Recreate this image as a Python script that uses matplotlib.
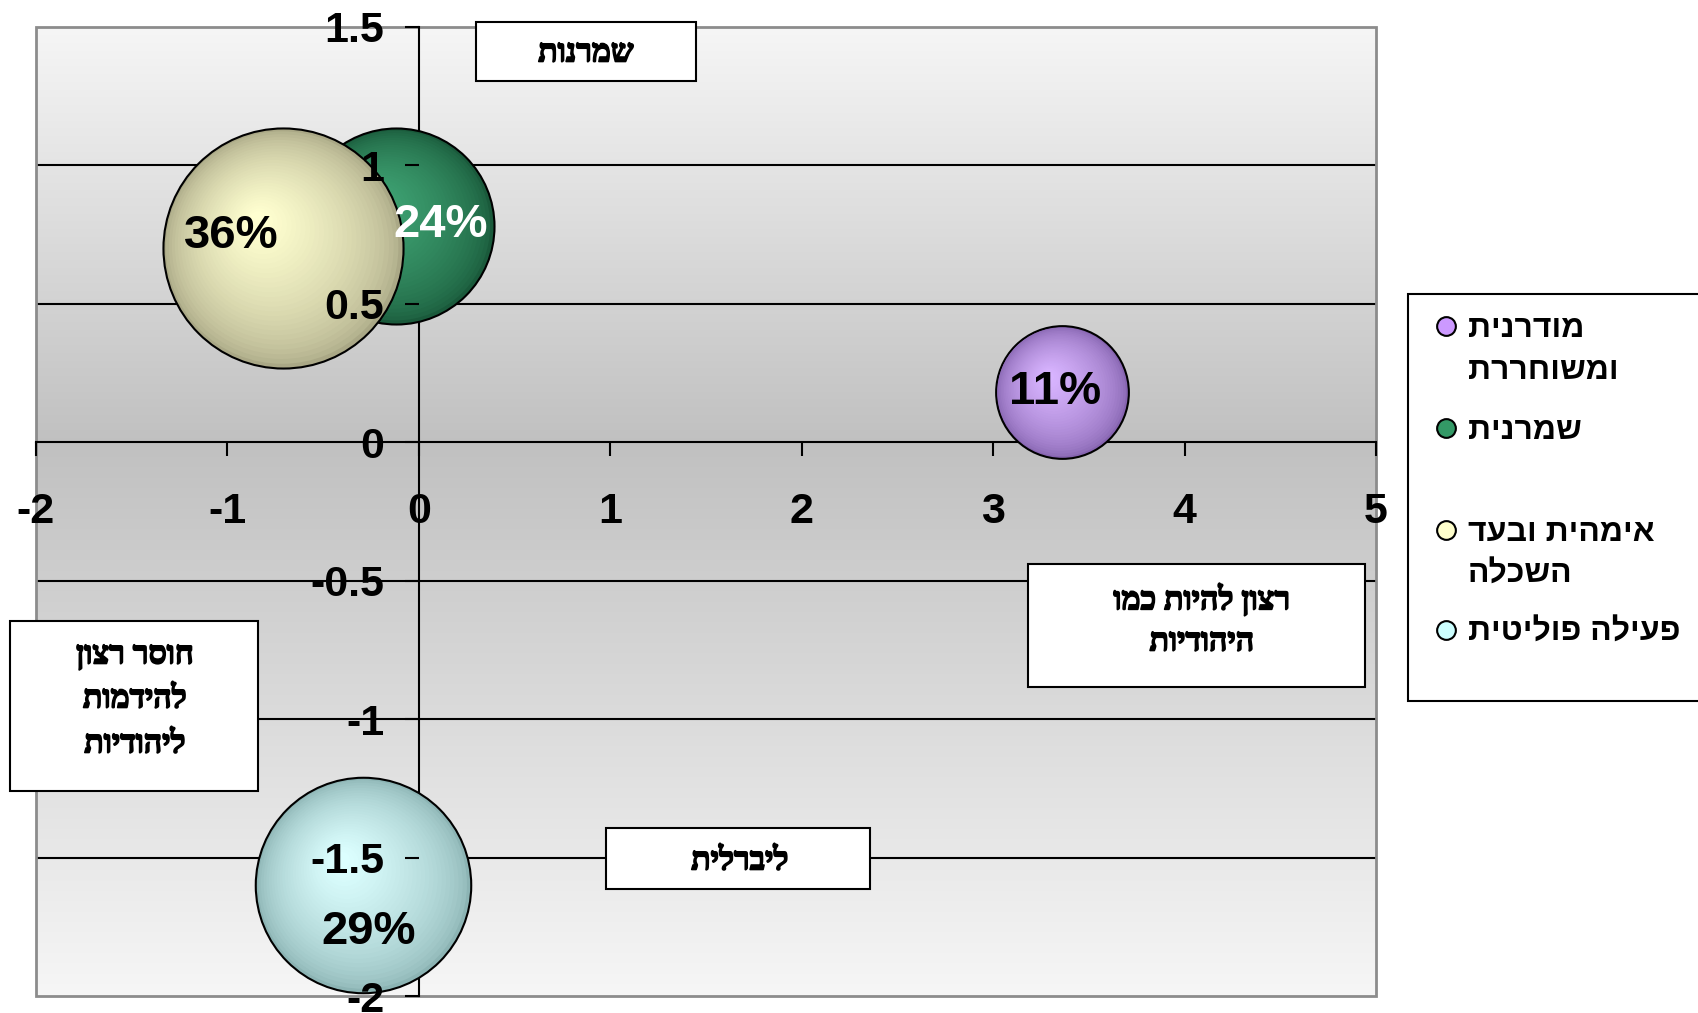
import matplotlib
matplotlib.use("Agg")
import matplotlib.pyplot as plt
import matplotlib.transforms as mtransforms
import matplotlib.patheffects as pe
from matplotlib.patches import Rectangle
from matplotlib.lines import Line2D
import numpy as np

plt.rcParams['font.family'] = ['Liberation Sans', 'DejaVu Sans']
plt.rcParams['font.weight'] = 'bold'
plt.rcParams['axes.unicode_minus'] = False

# bubble series, in legend order
legend_lines = [["מודרנית", "ומשוחררת"], ["שמרנית"], ["אימהית ובעד", "השכלה"], ["פעילה פוליטית"]]
x_vals = [3.36, -0.12, -0.71, -0.29]
y_vals = [0.18, 0.78, 0.70, -1.60]
sizes = [11, 24, 36, 29]
bubble_labels = ["11%", "24%", "36%", "29%"]
label_colors = ["black", "white", "black", "black"]
label_offsets = [(-5, 0), (32, 1), (-37, 9), (4, -34)]  # points
edge_cols = ["#8664b0", "#1a5a3b", "#aaa886", "#8cb4b4"]
center_cols = ["#d8b4ff", "#3fa474", "#ffffd0", "#dcffff"]
legend_cols = ["#cc99ff", "#339966", "#ffffcc", "#ccffff"]

x_ticks = [-2, -1, 0, 1, 2, 3, 4, 5]
x_tick_labels = ["-2", "-1", "0", "1", "2", "3", "4", "5"]
y_ticks = [-2, -1.5, -1, -0.5, 0, 0.5, 1, 1.5]
y_tick_labels = ["-2", "-1.5", "-1", "-0.5", "0", "0.5", "1", "1.5"]

# text boxes: lines, box (x0, y0, x1, y1) in pixels, text centre x, line centres y
box_lines = [["שמרנות"], ["רצון להיות כמו", "היהודיות"],
             ["חוסר רצון", "להידמות", "ליהודיות"], ["ליברלית"]]
box_rects = [(476, 22, 696, 81), (1028, 564, 1365, 687), (10, 621, 258, 791), (606, 828, 870, 889)]
box_text_x = [586, 1202, 135, 740]
box_text_y = [[54], [600, 643], [656, 700, 745], [862]]

W, H = 1698, 1013


def rtl(s):
    # matplotlib has no bidi support: draw Hebrew in visual order
    return s[::-1]


def fx(px):
    return px / W


def fy(py):
    return 1 - py / H


fig = plt.figure(figsize=(W / 100, H / 100), dpi=100, facecolor='white')
ax = fig.add_axes([fx(36), fy(996), (1376 - 36) / W, (996 - 27) / H])
xlim = (x_ticks[0], x_ticks[-1])
ylim = (y_ticks[0], y_ticks[-1])

# background gradient: dark at y=0, light at top and bottom
yy = np.linspace(ylim[0], ylim[1], 500)
t = np.where(yy >= 0, yy / ylim[1], yy / ylim[0])
g = 0.755 + 0.21 * t
bg = np.stack([g, g, g], axis=1)[:, None, :]
ax.imshow(bg, extent=[xlim[0], xlim[1], ylim[0], ylim[1]], origin='lower',
          aspect='auto', zorder=0, interpolation='bilinear')

for yv in y_ticks:
    if yv not in (0, ylim[0], ylim[1]):
        ax.axhline(yv, color='black', lw=1.5, zorder=0.8)

# bubbles with radial shading
n_layers = 30
for xv, yv, sz, ce, cc in zip(x_vals, y_vals, sizes, edge_cols, center_cols):
    s = sz * 830
    r_pt = np.sqrt(s) / 2
    ce_a = np.array(matplotlib.colors.to_rgb(ce))
    cc_a = np.array(matplotlib.colors.to_rgb(cc))
    for i in range(n_layers):
        f = 1 - 0.95 * i / n_layers
        tt = (i / (n_layers - 1)) ** 0.6
        col = ce_a * (1 - tt) + cc_a * tt
        tr = mtransforms.offset_copy(ax.transData, fig=fig, x=-(1 - f) * 0.22 * r_pt,
                                     y=(1 - f) * 0.25 * r_pt, units='points')
        ax.scatter([xv], [yv], s=s * f * f, color=[col],
                   edgecolors='black' if i == 0 else 'none',
                   linewidths=1.5 if i == 0 else 0, transform=tr, zorder=2)

for xv, yv, lb, lc, off in zip(x_vals, y_vals, bubble_labels, label_colors, label_offsets):
    ax.annotate(lb, (xv, yv), xytext=off, textcoords='offset points', ha='center',
                va='center', fontsize=34, fontweight='bold', color=lc, zorder=4)

ax.set_xlim(*xlim)
ax.set_ylim(*ylim)
ax.set_xticks(x_ticks)
ax.set_xticklabels(x_tick_labels)
ax.set_yticks(y_ticks)
ax.set_yticklabels(y_tick_labels)
ax.tick_params(axis='both', direction='out', length=10, width=1.5, labelsize=31, colors='black')
ax.tick_params(axis='x', pad=26)
ax.tick_params(axis='y', pad=15)
# tick labels sit on top of the bubbles
ax.xaxis.set_zorder(3)
ax.yaxis.set_zorder(3)

for side in ('top', 'right'):
    ax.spines[side].set_visible(False)
for side in ('left', 'bottom'):
    ax.spines[side].set_position(('data', 0))
    ax.spines[side].set_color('black')
    ax.spines[side].set_linewidth(1.5)
    ax.spines[side].set_zorder(1)
ax.add_patch(Rectangle((0, 0), 1, 1, transform=ax.transAxes, fill=False,
                       ec='#8c8c8c', lw=2, zorder=1, clip_on=False))

# text boxes
heavy = [pe.withStroke(linewidth=1.2, foreground='black')]
for lines, (x0, y0, x1, y1), tx, tys in zip(box_lines, box_rects, box_text_x, box_text_y):
    fig.add_artist(Rectangle((fx(x0), fy(y1)), (x1 - x0) / W, (y1 - y0) / H,
                             transform=fig.transFigure, fc='white', ec='black', lw=1.5, zorder=5))
    for ln, ty in zip(lines, tys):
        fig.text(fx(tx), fy(ty), rtl(ln), ha='center', va='center', fontsize=23,
                 fontweight='bold', family=['Liberation Serif', 'DejaVu Sans'], zorder=6,
                 path_effects=heavy)

# legend
fig.add_artist(Rectangle((fx(1408), fy(701)), (1720 - 1408) / W, (701 - 294) / H,
                         transform=fig.transFigure, fc='white', ec='black', lw=1.5, zorder=5))
leg_y = [326, 428, 530, 630]
for lines, col, ly in zip(legend_lines, legend_cols, leg_y):
    fig.add_artist(Line2D([fx(1446)], [fy(ly)], transform=fig.transFigure, marker='o',
                          markersize=13.5, markerfacecolor=col, markeredgecolor='black',
                          markeredgewidth=1.5, linestyle='none', zorder=6))
    for j, ln in enumerate(lines):
        fig.text(fx(1468), fy(ly + 3 + 42 * j), rtl(ln), ha='left', va='center', fontsize=23,
                 fontweight='bold', zorder=6)

fig.savefig('out.png', dpi=100, facecolor='white')
